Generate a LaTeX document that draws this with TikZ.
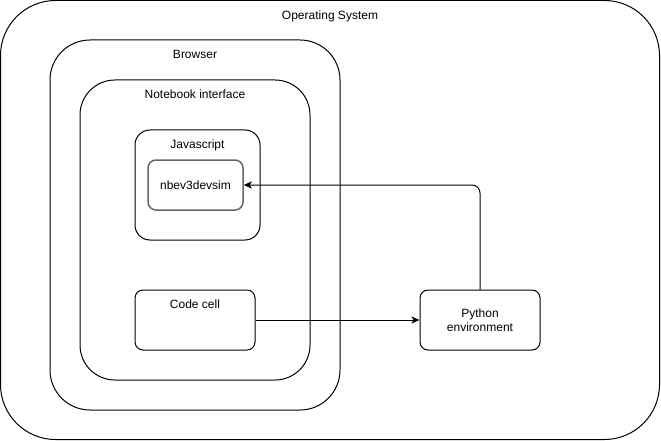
\documentclass[tikz,border=0pt]{standalone}
\usepackage{fontspec}
\setmainfont{Liberation Sans}
\usetikzlibrary{arrows}
\usetikzlibrary{positioning}
\usetikzlibrary{arrows.meta}

\begin{document}
\begin{tikzpicture}[->,>={Stealth[length=8pt,width=7pt,inset=2pt]},x=1pt,y=-1pt,font=\fontsize{12}{14}\selectfont]
		\tikzset{vertex/.style = {shape=rectangle, rounded corners=8pt, line width=1pt, draw, align=center, inner sep=0pt},
			group/.style = {vertex, label={[anchor=north, yshift=-7pt]north:#1}}}
		\useasboundingbox (0,0) rectangle (661,441);
		\node[group = Operating System, rounded corners=55pt, minimum width=659pt, minimum height=439pt] (OS) at (330,220) {};
		\node[group = Browser, rounded corners=40pt, minimum width=290pt, minimum height=370pt] (BROWSER) at (195,225) {};
		\node[group = Notebook interface, rounded corners=35pt, minimum width=230pt, minimum height=300pt] (NOTEBOOK) at (195,230) {};
		\node[group = Javascript, rounded corners=15pt, minimum width=125pt, minimum height=110pt] (JS) at (197.5,185) {};
		\node[vertex, draw=black!60, line width=1.5pt, minimum width=95pt, minimum height=50pt] (SIM) at (195.5,185) {nbev3devsim};
		\node[group = Code cell, minimum width=120pt, minimum height=60pt] (CODE) at (195,320) {};
		\node[vertex, minimum width=120pt, minimum height=60pt] (PYTHON) at (480,320) {Python\\environment};
		
		\draw[line width=1pt] (CODE.east) -- (PYTHON.west);
		\draw[line width=1pt, rounded corners=8pt] (PYTHON.north) |- (SIM.east);
		
		\end{tikzpicture}
\end{document}
